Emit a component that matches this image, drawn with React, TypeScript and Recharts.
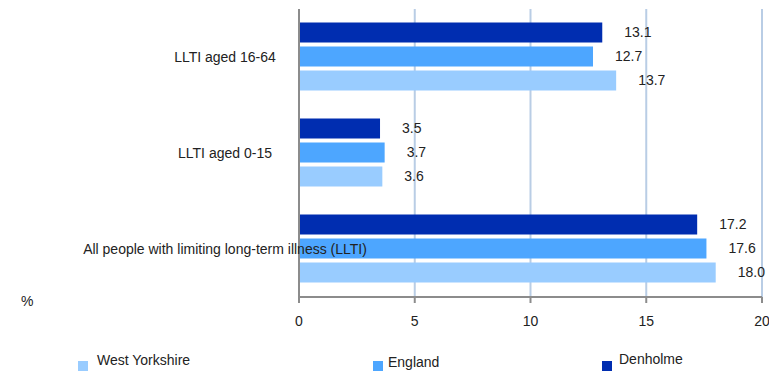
import React from 'react';
import { BarChart, Bar, XAxis, YAxis, CartesianGrid, LabelList } from 'recharts';

const categories = ['LLTI aged 16-64', 'LLTI aged 0-15', 'All people with limiting long-term illness (LLTI)'];
const denholme = [13.1, 3.5, 17.2];
const england = [12.7, 3.7, 17.6];
const westYorkshire = [13.7, 3.6, 18.0];
const xTicks = [0, 5, 10, 15, 20];

const series = [
    { key: 'denholme', name: 'Denholme', color: '#002db0' },
    { key: 'england', name: 'England', color: '#4da6ff' },
    { key: 'westYorkshire', name: 'West Yorkshire', color: '#99ccff' },
];

// legend order in the picture
const legendItems = [
    { name: 'West Yorkshire', color: '#99ccff', left: 78, textLeft: 97, textTop: 352 },
    { name: 'England', color: '#4da6ff', left: 373, textLeft: 388, textTop: 354 },
    { name: 'Denholme', color: '#002db0', left: 602, textLeft: 619, textTop: 351 },
];

const data = categories.map((name, i) => ({
    name,
    denholme: denholme[i],
    england: england[i],
    westYorkshire: westYorkshire[i],
}));

const FONT = '"Liberation Sans", Arial, sans-serif';

const CategoryTick = (props: any) => {
    const { y, payload } = props;
    return (
        <text x={225} y={y} dy={5} textAnchor="middle" fontSize={14} fill="#222" fontFamily={FONT}>
            {payload.value}
        </text>
    );
};

export default function App() {
    return (
        <div style={{ position: 'absolute', left: 0, top: 0, width: 769, height: 371, fontFamily: FONT }}>
            <BarChart
                width={769}
                height={371}
                data={data}
                layout="vertical"
                margin={{ top: 9, right: 7, bottom: 44, left: 0 }}
                barCategoryGap="14%"
                barGap={4}
            >
                <CartesianGrid horizontal={false} stroke="#b9cde5" strokeWidth={2} />
                <XAxis
                    type="number"
                    domain={[0, 20]}
                    ticks={xTicks}
                    height={30}
                    stroke="#8c8c8c"
                    strokeWidth={2}
                    tickSize={6}
                    tickMargin={13}
                    tick={{ fontSize: 14, fill: '#222', fontFamily: FONT }}
                />
                <YAxis
                    type="category"
                    dataKey="name"
                    width={299}
                    stroke="#8c8c8c"
                    strokeWidth={2}
                    tickLine={false}
                    tick={<CategoryTick />}
                />
                {series.map(s => (
                    <Bar key={s.key} dataKey={s.key} name={s.name} fill={s.color} isAnimationActive={false}>
                        <LabelList
                            dataKey={s.key}
                            position="right"
                            offset={22}
                            fill="#222"
                            fontSize={14}
                            fontFamily={FONT}
                            formatter={(v: any) => Number(v).toFixed(1)}
                        />
                    </Bar>
                ))}
            </BarChart>
            <div style={{ position: 'absolute', left: 21, top: 293, fontSize: 14, color: '#222' }}>%</div>
            {legendItems.map(item => (
                <React.Fragment key={item.name}>
                    <div style={{ position: 'absolute', left: item.left, top: 361, width: 10, height: 10, background: item.color }} />
                    <div style={{ position: 'absolute', left: item.textLeft, top: item.textTop, fontSize: 14, color: '#222', whiteSpace: 'nowrap' }}>
                        {item.name}
                    </div>
                </React.Fragment>
            ))}
        </div>
    );
}
